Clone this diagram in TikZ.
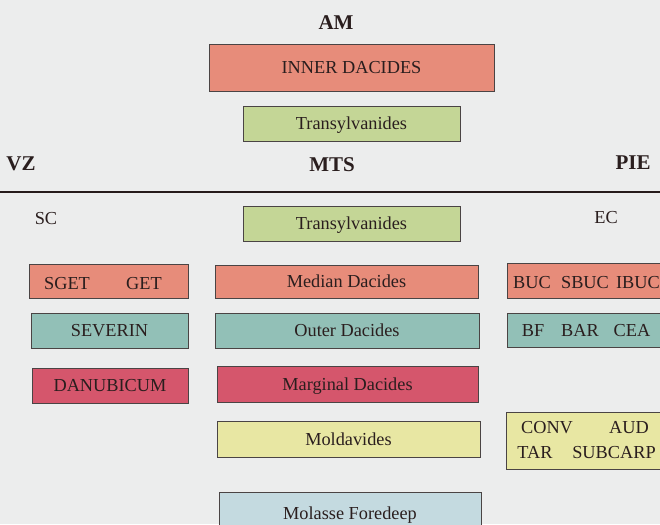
\documentclass[tikz,border=0pt]{standalone}
\usepackage{fontspec}
\setmainfont{Liberation Serif}
\definecolor{bg}{HTML}{ECEDED}
\definecolor{ink}{HTML}{2A1E1E}
\definecolor{boxline}{HTML}{4A4444}
\definecolor{salmon}{HTML}{E78C7A}
\definecolor{olive}{HTML}{C4D696}
\definecolor{teal}{HTML}{92C0B7}
\definecolor{crimson}{HTML}{D5566C}
\definecolor{paleyellow}{HTML}{E8E7A3}
\definecolor{paleblue}{HTML}{C4DAE0}
\begin{document}
\begin{tikzpicture}[x=1pt,y=-1pt,
  unitbox/.style={rectangle, draw=boxline, line width=0.8pt, inner sep=0pt, outer sep=0pt,
    text=ink, font=\fontsize{18.3}{21}\selectfont, text height=12.1pt, text depth=0pt},
  lbl/.style={inner sep=0pt, outer sep=0pt, text=ink, font=\fontsize{18.3}{21}\selectfont,
    text height=12.1pt, text depth=0pt},
  head/.style={inner sep=0pt, outer sep=0pt, text=ink, font=\fontsize{21}{24}\selectfont\bfseries,
    text height=13.9pt, text depth=0pt},
  sizebox/.style n args={2}{minimum width=#1pt, minimum height=#2pt}
]
\fill[bg] (0,0) rectangle (660,524);
\useasboundingbox (0,0) rectangle (660,524);

% headings
\node[head] (am) at (336,23) {AM};
\node[head] (vz) at (21,164) {VZ};
\node[head] (mts) at (332,165) {MTS};
\node[head] (pie) at (633,163) {PIE};

% separating line
\coordinate (lineL) at (0,192);
\coordinate (lineR) at (660,192);
\draw[line width=2.4pt, color=ink!90!black] (lineL) -- (lineR);

% upper (AM) column
\node[unitbox, fill=salmon, sizebox={285}{47}] (inner) at (351.5,67.5) {INNER DACIDES};
\node[unitbox, fill=olive, sizebox={217}{35}] (transU) at (351.5,123.5) {Transylvanides};

% column labels
\node[lbl] (sc) at (46,218) {SC};
\node[lbl] (ec) at (606,217) {EC};

% MTS column
\node[unitbox, fill=olive, sizebox={217}{35}] (transL) at (351.5,223.5) {Transylvanides};
\node[unitbox, fill=salmon, sizebox={263}{33}] (median) at (346.5,281.5) {Median Dacides};
\node[unitbox, fill=teal, sizebox={264}{35}] (outer) at (347,330.5) {Outer Dacides};
\node[unitbox, fill=crimson, sizebox={261}{36}] (marginal) at (347.5,384) {Marginal Dacides};
\node[unitbox, fill=paleyellow, sizebox={263}{36}] (moldav) at (348.5,439) {Moldavides};
\node[unitbox, fill=paleblue, sizebox={262}{43}] (molasse) at (350,513.5) {Molasse Foredeep};

% SC column
\node[unitbox, fill=salmon, sizebox={159}{34}] (sgetbox) at (108.5,281) {};
\node[lbl] (sget) at (67,283) {SGET};
\node[lbl] (get) at (144,283) {GET};
\node[unitbox, fill=teal, sizebox={157}{35}] (severin) at (109.5,330.5) {SEVERIN};
\node[unitbox, fill=crimson, sizebox={156}{35}] (danub) at (110,385.5) {DANUBICUM};

% EC column
\node[unitbox, fill=salmon, sizebox={165}{35}] (bucbox) at (589.5,280.5) {};
\node[lbl] (buc) at (532,282) {BUC};
\node[lbl] (sbuc) at (585,282) {SBUC};
\node[lbl] (ibuc) at (638,282) {IBUC};
\node[unitbox, fill=teal, sizebox={165}{34}] (bfbox) at (589.5,330) {};
\node[lbl] (bf) at (533,330) {BF};
\node[lbl] (bar) at (580,330) {BAR};
\node[lbl] (cea) at (632,330) {CEA};
\node[unitbox, fill=paleyellow, sizebox={166}{57}] (convbox) at (589,440.5) {};
\node[lbl] (conv) at (547,427) {CONV};
\node[lbl] (aud) at (629,427) {AUD};
\node[lbl] (tar) at (535,452) {TAR};
\node[lbl] (subcarp) at (614,452) {SUBCARP};
\end{tikzpicture}
\end{document}
